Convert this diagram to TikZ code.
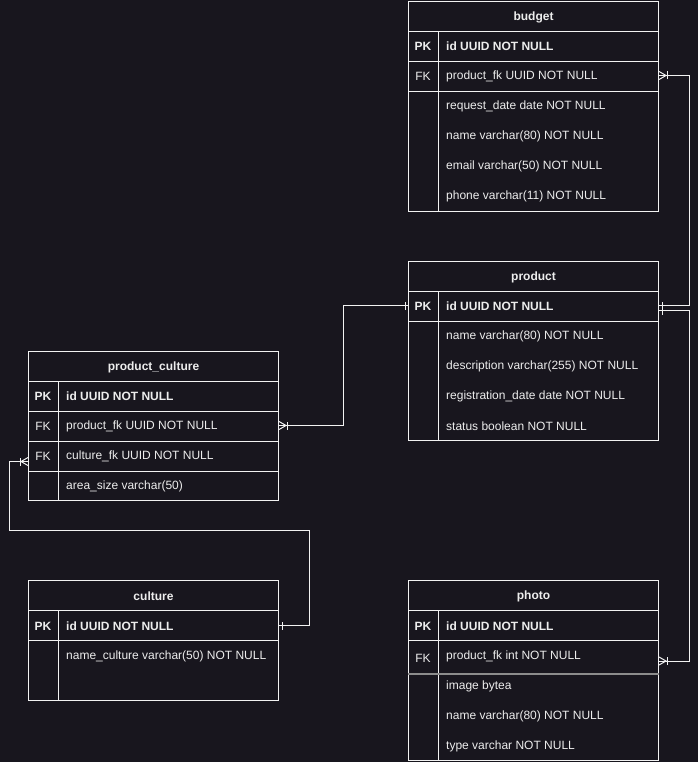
\documentclass[tikz,border=0pt]{standalone}
\usepackage{fontspec}
\setmainfont{Liberation Sans}
\definecolor{bg}{HTML}{18161E}
\definecolor{lc}{HTML}{F2F2F2}
\definecolor{tc}{HTML}{EDEDED}
\definecolor{sepc}{HTML}{8C8C8C}
\tikzset{
  ln/.style={draw=lc, line width=1pt},
  tbox/.style={ln, minimum width=250pt, inner sep=0pt, anchor=north west, text=tc},
  hdr/.style={tbox, minimum height=30pt, font=\fontsize{12pt}{14pt}\selectfont\bfseries},
  hdrtxt/.style={text=tc, inner sep=0pt, anchor=center, yshift=-1pt, font=\fontsize{12pt}{14pt}\selectfont\bfseries},
  rowbox/.style={tbox, minimum height=30pt},
  keyb/.style={text=tc, inner sep=0pt, anchor=center, yshift=-1pt, font=\fontsize{12pt}{14pt}\selectfont\bfseries},
  keyr/.style={text=tc, inner sep=0pt, anchor=center, yshift=-1pt, font=\fontsize{12pt}{14pt}\selectfont},
  fld/.style={text=tc, inner sep=0pt, anchor=west, yshift=-1pt, font=\fontsize{12pt}{14pt}\selectfont},
  fldb/.style={fld, font=\fontsize{12pt}{14pt}\selectfont\bfseries},
  conn/.style={ln},
  onebar/.pic={\draw[conn] (3pt,-4pt) -- (3pt,4pt);},
  crow/.pic={\draw[conn] (0pt,-4pt) -- (7pt,0pt) -- (0pt,4pt); \draw[conn] (8pt,-4pt) -- (8pt,4pt);}
}
\begin{document}
\begin{tikzpicture}[x=1pt,y=-1pt]
\useasboundingbox (0,0) rectangle (698,762);
\fill[bg] (0,0) rectangle (698,762);

% ---------- budget ----------
\node[rowbox] (bH) at (408,1) {};
\node[hdrtxt] (bHt) at (bH.center) {budget};
\node[rowbox] (bPK) at (408,31) {};
\node[rowbox] (bFK) at (408,61) {};
\node[rowbox, minimum height=120pt] (bB) at (408,91) {};
\draw[ln] ([xshift=30pt]bPK.north west) -- ([xshift=30pt]bB.south west);
\node[keyb] (bPKk) at (423,45) {PK};
\node[keyr] (bFKk) at (423,75) {FK};
\node[fldb] (bf1) at (446,45) {id UUID NOT NULL};
\node[fld] (bf2) at (446,75) {product\_fk UUID NOT NULL};
\node[fld] (bf3) at (446,105) {request\_date date NOT NULL};
\node[fld] (bf4) at (446,135) {name varchar(80) NOT NULL};
\node[fld] (bf5) at (446,165) {email varchar(50) NOT NULL};
\node[fld] (bf6) at (446,195) {phone varchar(11) NOT NULL};

% ---------- product ----------
\node[rowbox] (pH) at (408,261) {};
\node[hdrtxt] (pHt) at (pH.center) {product};
\node[rowbox] (pPK) at (408,291) {};
\node[rowbox, minimum height=119pt] (pB) at (408,321) {};
\draw[ln] ([xshift=30pt]pPK.north west) -- ([xshift=30pt]pB.south west);
\node[keyb] (pPKk) at (423,305) {PK};
\node[fldb] (pf1) at (446,305) {id UUID NOT NULL};
\node[fld] (pf2) at (446,335) {name varchar(80) NOT NULL};
\node[fld] (pf3) at (446,365) {description varchar(255) NOT NULL};
\node[fld] (pf4) at (446,395) {registration\_date date NOT NULL};
\node[fld] (pf5) at (446,425) {status boolean NOT NULL};

% ---------- product_culture ----------
\node[rowbox] (cH) at (28,351) {};
\node[hdrtxt] (cHt) at (cH.center) {product\_culture};
\node[rowbox] (cPK) at (28,381) {};
\node[rowbox] (cFK1) at (28,411) {};
\node[rowbox] (cFK2) at (28,441) {};
\node[rowbox, minimum height=29pt] (cB) at (28,471) {};
\draw[ln] ([xshift=30pt]cPK.north west) -- ([xshift=30pt]cB.south west);
\node[keyb] (cPKk) at (43,395) {PK};
\node[keyr] (cFK1k) at (43,425) {FK};
\node[keyr] (cFK2k) at (43,455) {FK};
\node[fldb] (cf1) at (66,395) {id UUID NOT NULL};
\node[fld] (cf2) at (66,425) {product\_fk UUID NOT NULL};
\node[fld] (cf3) at (66,455) {culture\_fk UUID NOT NULL};
\node[fld] (cf4) at (66,485) {area\_size varchar(50)};

% ---------- culture ----------
\node[rowbox] (uH) at (28,580) {};
\node[hdrtxt] (uHt) at (uH.center) {culture};
\node[rowbox] (uPK) at (28,610) {};
\node[rowbox, minimum height=60pt] (uB) at (28,640) {};
\draw[ln] ([xshift=30pt]uPK.north west) -- ([xshift=30pt]uB.south west);
\node[keyb] (uPKk) at (43,625) {PK};
\node[fldb] (uf1) at (66,625) {id UUID NOT NULL};
\node[fld] (uf2) at (66,655) {name\_culture varchar(50) NOT NULL};

% ---------- photo ----------
\node[rowbox] (fH) at (408,580) {};
\node[hdrtxt] (fHt) at (fH.center) {photo};
\node[rowbox] (fPK) at (408,610) {};
\node[rowbox, minimum height=33pt] (fFK) at (408,640) {};
\node[rowbox, minimum height=87pt] (fB) at (408,673) {};
\draw[ln] ([xshift=30pt]fPK.north west) -- ([xshift=30pt]fB.south west);
\draw[draw=sepc, line width=2.2pt] (fFK.south west) -- (fFK.south east);
\node[keyb] (fPKk) at (423,625) {PK};
\node[keyr] (fFKk) at (423,657) {FK};
\node[fldb] (ff1) at (446,625) {id UUID NOT NULL};
\node[fld] (ff2) at (446,655) {product\_fk int NOT NULL};
\node[fld] (ff3) at (446,685) {image bytea};
\node[fld] (ff4) at (446,715) {name varchar(80) NOT NULL};
\node[fld] (ff5) at (446,745) {type varchar NOT NULL};

% ---------- connectors ----------
% product -> budget
\coordinate (e1a) at ([yshift=1pt]pPK.east);
\coordinate (e1b) at ([yshift=1pt]bFK.east);
\draw[conn] (e1a) -- ++(30,0) |- (e1b);
\pic at (e1a) {onebar};
\pic at (e1b) {crow};
% product -> photo
\coordinate (e2a) at ([yshift=-4pt]pPK.east);
\coordinate (e2b) at ([yshift=-4pt]fFK.east);
\draw[conn] (e2a) -- ++(30,0) |- (e2b);
\pic at (e2a) {onebar};
\pic at (e2b) {crow};
% product -> product_culture
\coordinate (e3a) at ([yshift=1pt]pPK.west);
\coordinate (e3b) at ([yshift=1pt]cFK1.east);
\draw[conn] (e3a) -- ++(-65,0) |- (e3b);
\pic[xscale=-1] at (e3a) {onebar};
\pic at (e3b) {crow};
% culture -> product_culture
\coordinate (e4a) at (uPK.east);
\coordinate (e4b) at ([yshift=-5pt]cFK2.west);
\draw[conn] (e4a) -- ++(30,0) -- ++(0,-95) -- ++(-300,0) |- (e4b);
\pic at (e4a) {onebar};
\pic[xscale=-1] at (e4b) {crow};
\end{tikzpicture}
\end{document}
